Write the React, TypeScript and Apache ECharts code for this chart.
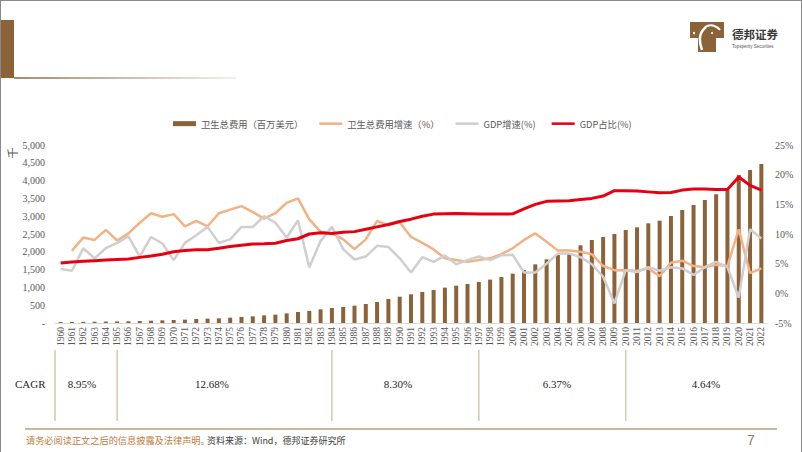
import React, { useEffect, useRef } from "react";
import * as echarts from "echarts";

const years = [
  "1960", "1961", "1962", "1963", "1964", "1965", "1966", "1967", "1968", "1969",
  "1970", "1971", "1972", "1973", "1974", "1975", "1976", "1977", "1978", "1979",
  "1980", "1981", "1982", "1983", "1984", "1985", "1986", "1987", "1988", "1989",
  "1990", "1991", "1992", "1993", "1994", "1995", "1996", "1997", "1998", "1999",
  "2000", "2001", "2002", "2003", "2004", "2005", "2006", "2007", "2008", "2009",
  "2010", "2011", "2012", "2013", "2014", "2015", "2016", "2017", "2018", "2019",
  "2020", "2021", "2022",
];

// 卫生总费用 (left axis, 千)
const healthSpending = [
  27, 29, 32, 35, 40, 45, 50, 56, 65, 75,
  84, 94, 112, 122, 131, 150, 168, 187, 215, 234,
  271, 309, 337, 384, 421, 449, 487, 534, 590, 674,
  739, 805, 871, 927, 993, 1049, 1096, 1152, 1218, 1292,
  1386, 1489, 1648, 1788, 1910, 1957, 2182, 2331, 2416, 2500,
  2612, 2687, 2800, 2874, 3006, 3174, 3315, 3455, 3614, 3736,
  4157, 4298, 4466,
];

// 卫生总费用增速 (%)
const healthGrowth = [
  null, 7.2, 9.4, 9.0, 10.7, 8.9, 10.1, 11.9, 13.5, 12.9,
  13.35, 11.3, 12.2, 11.3, 13.5, 14.1, 14.7, 13.7, 12.6, 13.5,
  15.25, 16.0, 12.45, 10.4, 10.1, 9.1, 7.45, 9.1, 12.2, 11.5,
  12.0, 9.5, 8.5, 7.4, 5.9, 5.6, 5.3, 5.6, 5.9, 6.6,
  7.6, 9.0, 10.1, 8.7, 7.2, 7.2, 7.0, 6.6, 4.6, 3.9,
  3.9, 3.8, 4.2, 2.9, 5.15, 5.5, 4.6, 4.4, 4.8, 4.6,
  10.8, 3.4, 4.2,
];

// GDP增速 (%)
const gdpGrowth = [
  4.1, 3.8, 7.6, 5.9, 7.6, 8.5, 9.6, 6.2, 9.5, 8.4,
  5.6, 8.5, 9.8, 11.2, 8.5, 9.1, 11.2, 11.2, 13.0, 11.9,
  9.4, 12.3, 4.4, 8.8, 11.2, 7.45, 5.7, 6.2, 8.0, 7.8,
  5.9, 3.5, 6.1, 5.3, 6.4, 4.9, 5.6, 6.2, 5.6, 6.4,
  6.5, 3.5, 3.5, 5.0, 6.7, 6.7, 6.1, 4.9, 2.8, -1.7,
  3.9, 3.6, 4.4, 3.8, 4.4, 4.2, 3.1, 4.4, 5.3, 4.4,
  -0.7, 10.8, 9.25,
];

// GDP占比 (%)
const gdpShare = [
  5.1, 5.3, 5.4, 5.5, 5.6, 5.7, 5.8, 6.06, 6.3, 6.6,
  7.0, 7.2, 7.35, 7.35, 7.6, 7.9, 8.1, 8.3, 8.35, 8.45,
  8.9, 9.2, 10.0, 10.2, 10.1, 10.3, 10.4, 10.8, 11.2, 11.6,
  12.1, 12.5, 13.0, 13.35, 13.4, 13.45, 13.4, 13.35, 13.35, 13.35,
  13.4, 14.25, 15.0, 15.5, 15.55, 15.6, 15.8, 16.0, 16.4, 17.3,
  17.3, 17.25, 17.1, 16.95, 17.0, 17.4, 17.6, 17.6, 17.5, 17.5,
  19.6, 18.2, 17.4,
];

const seriesNames = ["卫生总费用（百万美元）", "卫生总费用增速（%）", "GDP增速(%)", "GDP占比(%)"];
const cagrBreakYears = ["1965", "1984", "1997", "2010"];
const cagrValues = ["8.95%", "12.68%", "8.30%", "6.37%", "4.64%"];
const cagrTextX = [82, 212, 398, 557, 706];

const SERIF = "'Liberation Serif', 'Times New Roman', serif";
const CJK = "'Noto Sans CJK SC', sans-serif";
const LINE_ICON = "path://M0 0H100V11H0Z";

export default function App() {
  const ref = useRef<HTMLDivElement>(null);

  useEffect(() => {
    const chart = echarts.init(ref.current!, null, { renderer: "svg" });
    chart.setOption({
      animation: false,
      backgroundColor: "#ffffff",
      legend: {
        left: 168,
        top: 114,
        itemWidth: 23,
        itemHeight: 5,
        itemGap: 16,
        textStyle: { fontFamily: CJK, fontSize: 9.3, color: "#595959" },
        data: [
          { name: seriesNames[0], icon: "rect" },
          { name: seriesNames[1], icon: LINE_ICON },
          { name: seriesNames[2], icon: LINE_ICON },
          { name: seriesNames[3], icon: LINE_ICON },
        ],
      },
      grid: { left: 55, right: 35, top: 145, bottom: 129, containLabel: false },
      xAxis: {
        type: "category",
        data: years,
        axisTick: { show: false },
        axisLine: { show: true, lineStyle: { color: "#d9d9d9", width: 1 } },
        axisLabel: {
          interval: 0,
          rotate: 90,
          margin: 4,
          fontFamily: SERIF,
          fontSize: 9.5,
          color: "#595959",
        },
      },
      yAxis: [
        {
          type: "value",
          min: 0,
          max: 5000,
          interval: 500,
          splitLine: { show: false },
          axisLine: { show: false },
          axisTick: { show: false },
          axisLabel: {
            margin: 10,
            fontFamily: SERIF,
            fontSize: 10,
            color: "#595959",
            formatter: (v: number) => (v === 0 ? "-" : v.toLocaleString("en-US")),
          },
        },
        {
          type: "value",
          min: -5,
          max: 25,
          interval: 5,
          splitLine: { show: false },
          axisLine: { show: false },
          axisTick: { show: false },
          axisLabel: {
            margin: 8,
            fontFamily: SERIF,
            fontSize: 10,
            color: "#595959",
            formatter: (v: number) => `${v}%`,
          },
        },
      ],
      series: [
        {
          name: seriesNames[0],
          type: "bar",
          yAxisIndex: 0,
          data: healthSpending,
          barWidth: 4,
          itemStyle: { color: "#8C6239" },
          z: 1,
        },
        {
          name: seriesNames[1],
          type: "line",
          yAxisIndex: 1,
          data: healthGrowth,
          symbol: "none",
          itemStyle: { color: "#F4B183" },
          lineStyle: { color: "#F4B183", width: 2.5 },
          z: 2,
        },
        {
          name: seriesNames[2],
          type: "line",
          yAxisIndex: 1,
          data: gdpGrowth,
          symbol: "none",
          itemStyle: { color: "#D0CECE" },
          lineStyle: { color: "#D0CECE", width: 2.5 },
          z: 3,
        },
        {
          name: seriesNames[3],
          type: "line",
          yAxisIndex: 1,
          data: gdpShare,
          symbol: "none",
          itemStyle: { color: "#E60012" },
          lineStyle: { color: "#E60012", width: 3 },
          z: 4,
        },
      ],
    });

    const px = (i: number) => chart.convertToPixel({ xAxisIndex: 0 }, i) as number;
    const band = px(1) - px(0);
    const sepX = [px(0) - band / 2, ...cagrBreakYears.map((y) => px(years.indexOf(y)))];

    const graphic: any[] = [
      // frame
      { type: "rect", shape: { x: 0, y: 0, width: 802, height: 1 }, style: { fill: "#8a8a8a" } },
      { type: "rect", shape: { x: 0, y: 0, width: 1, height: 452 }, style: { fill: "#8a8a8a" } },
      { type: "rect", shape: { x: 801, y: 0, width: 1, height: 452 }, style: { fill: "#8a8a8a" } },
      // header
      { type: "rect", shape: { x: 1, y: 20, width: 13, height: 58 }, style: { fill: "#8C6239" } },
      {
        type: "rect",
        shape: { x: 14, y: 77, width: 222, height: 2 },
        style: {
          fill: new echarts.graphic.LinearGradient(0, 0, 1, 0, [
            { offset: 0, color: "#a98b68" },
            { offset: 1, color: "#f3efe9" },
          ]),
        },
      },
      // logo
      {
        type: "polygon",
        shape: {
          points: [
            [690, 22], [724, 22], [724, 38], [716, 38], [716, 52], [698, 52], [698, 38], [690, 38],
          ],
        },
        style: { fill: "#8C6239" },
      },
      {
        type: "bezierCurve",
        shape: { x1: 706, y1: 27, x2: 702, y2: 50, cpx1: 697, cpy1: 34, cpx2: 700, cpy2: 44 },
        style: { stroke: "#ffffff", lineWidth: 2.5, fill: "none" },
      },
      {
        type: "bezierCurve",
        shape: { x1: 705, y1: 27, x2: 720, y2: 30, cpx1: 710, cpy1: 24, cpx2: 716, cpy2: 25 },
        style: { stroke: "#ffffff", lineWidth: 2, fill: "none" },
      },
      { type: "circle", shape: { cx: 694, cy: 33, r: 1.2 }, style: { fill: "#ffffff" } },
      { type: "circle", shape: { cx: 712, cy: 33, r: 1 }, style: { fill: "#ffffff" } },
      {
        type: "text",
        x: 732,
        y: 34,
        style: {
          text: "德邦证券",
          fontFamily: CJK,
          fontWeight: "bold",
          fontSize: 11.5,
          fill: "#3a3a3a",
          verticalAlign: "middle",
        },
      },
      {
        type: "text",
        x: 732,
        y: 46,
        style: {
          text: "Topsperity Securities",
          fontFamily: "'Liberation Sans', sans-serif",
          fontSize: 4.5,
          fill: "#555555",
          verticalAlign: "middle",
        },
      },
      // y-axis unit
      {
        type: "text",
        x: 12,
        y: 153,
        rotation: Math.PI / 2,
        style: {
          text: "千",
          fontFamily: CJK,
          fontSize: 11,
          fill: "#595959",
          align: "center",
          verticalAlign: "middle",
        },
      },
      // CAGR table
      {
        type: "text",
        x: 15,
        y: 384,
        style: {
          text: "CAGR",
          fontFamily: SERIF,
          fontSize: 11,
          fill: "#262626",
          verticalAlign: "middle",
        },
      },
      ...sepX.map((x) => ({
        type: "line",
        shape: { x1: x, y1: 350, x2: x, y2: 421 },
        style: { stroke: "#d8c8ae", lineWidth: 1.5 },
      })),
      ...cagrValues.map((t, i) => ({
        type: "text",
        x: cagrTextX[i],
        y: 384,
        style: {
          text: t,
          fontFamily: SERIF,
          fontSize: 11,
          fill: "#262626",
          align: "center",
          verticalAlign: "middle",
        },
      })),
      // footer
      { type: "rect", shape: { x: 25, y: 428, width: 752, height: 2 }, style: { fill: "#c9b89e" } },
      {
        type: "text",
        x: 26,
        y: 440,
        style: {
          text: "请务必阅读正文之后的信息披露及法律声明。",
          fontFamily: CJK,
          fontSize: 9.2,
          fill: "#C07A3A",
          verticalAlign: "middle",
        },
      },
      {
        type: "text",
        x: 207,
        y: 440,
        style: {
          text: "资料来源：Wind，德邦证券研究所",
          fontFamily: CJK,
          fontSize: 9,
          fill: "#404040",
          verticalAlign: "middle",
        },
      },
      {
        type: "text",
        x: 747,
        y: 440,
        style: {
          text: "7",
          fontFamily: "'Liberation Sans', sans-serif",
          fontSize: 14,
          fill: "#7f7f7f",
          verticalAlign: "middle",
        },
      },
    ];

    chart.setOption({ graphic });

    return () => chart.dispose();
  }, []);

  return (
    <div
      ref={ref}
      style={{ position: "fixed", left: 0, top: 0, width: 802, height: 452, background: "#fff" }}
    />
  );
}
